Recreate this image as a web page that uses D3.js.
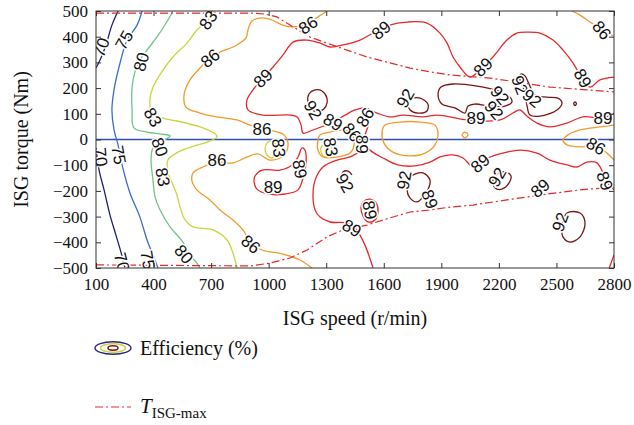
<!DOCTYPE html>
<html><head><meta charset="utf-8">
<script src="https://cdn.jsdelivr.net/npm/d3@7/dist/d3.min.js"></script>
<style>body{margin:0;background:#fff}</style>
</head><body>
<svg id="chart" width="634" height="425"></svg>
<script>
// ---------- data (speed r/min, torque Nm) ----------
const xTicks = [100,400,700,1000,1300,1600,1900,2200,2500,2800];
const yTicks = [-500,-400,-300,-200,-100,0,100,200,300,400,500];
const levels = [70,75,80,83,86,89,92];

const lines70 = [
  [[215,500],[183,445],[152,368],[121,309],[100,278]],
  [[100,-33],[116,-119],[142,-196],[173,-294],[204,-372],[230,-438],[251,-500]]
];
const lines75 = [
  [[340,500],[314,445],[262,387],[220,282],[194,193],[183,115],[194,37],[215,-21],[236,-99],[277,-208],[329,-302],[366,-391],[397,-449],[423,-500]]
];
const lines80 = [
  [[501,500],[475,465],[418,399],[366,348],[329,309],[303,263],[288,204],[288,115],[298,45],[366,29],[444,21],[486,14],[449,-6],[397,-33],[387,-80],[397,-158],[408,-224],[434,-274],[486,-340],[553,-399],[590,-449],[626,-481],[642,-500]]
];
const lines83 = [
  [[720,500],[684,465],[626,426],[574,375],[501,321],[449,270],[397,204],[381,154],[392,103],[444,84],[522,72],[642,49],[715,25],[731,10],[679,-10],[616,-25],[538,-45],[475,-80],[475,-126],[501,-177],[522,-216],[538,-263],[564,-313],[606,-340],[710,-352],[783,-391],[814,-442],[835,-500]]
];
const loops83 = [
  [[991,-14],[1017,-6],[1043,-25],[1043,-56],[1017,-72],[991,-60],[981,-37]],
  [[1278,-25],[1309,-18],[1330,-33],[1325,-60],[1294,-68],[1273,-49]]
];
const lines86 = [
  [[1304,500],[1257,477],[1215,457],[1169,442],[1085,442],[1017,465],[965,473],[913,461],[892,426],[882,395],[825,364],[746,340],[694,317],[642,278],[590,232],[559,173],[569,126],[642,103],[731,88],[835,76],[903,56],[965,41],[1028,33],[1080,18],[1101,-21],[1075,-64],[1007,-80],[944,-56],[887,-68],[814,-91],[731,-88],[658,-107],[606,-130],[600,-161],[626,-196],[694,-235],[746,-274],[814,-313],[866,-352],[908,-403],[965,-430],[1075,-446],[1163,-469],[1226,-500]],
  [[2581,500],[2623,484],[2675,457],[2743,426],[2795,403]],
  [[2800,56],[2727,49],[2623,37],[2560,18],[2534,-2],[2555,-21],[2623,-29],[2706,-25],[2763,-53],[2800,-80]]
];
const loops86 = [
  [[1257,-2],[1268,18],[1320,29],[1398,37],[1434,21],[1445,-21],[1424,-53],[1356,-68],[1283,-68],[1257,-41]],
  [[1606,56],[1685,68],[1789,68],[1867,56],[1883,18],[1867,-21],[1815,-53],[1737,-64],[1648,-49],[1601,-14],[1591,29]],
  [[2008,18],[2023,29],[2039,18],[2023,6]]
];
const lines89 = [
  [[2800,243],[2727,232],[2675,204],[2638,232],[2586,298],[2534,348],[2482,387],[2414,414],[2352,418],[2294,414],[2242,387],[2169,321],[2117,282],[2049,243],[1997,282],[1961,321],[1930,375],[1893,414],[1825,453],[1721,457],[1632,445],[1586,426],[1544,414],[1476,387],[1387,368],[1320,360],[1268,375],[1200,387],[1127,379],[1075,329],[1023,282],[970,239],[918,193],[887,154],[892,115],[970,95],[1111,95],[1148,88],[1169,56],[1179,25],[1231,37],[1335,68],[1398,95],[1450,115],[1502,123],[1565,103],[1632,88],[1700,95],[1804,88],[1877,95],[1945,88],[2034,76],[2206,76],[2273,103],[2310,115],[2346,91],[2399,64],[2466,49],[2555,64],[2638,88],[2743,84],[2800,103]],
  [[1507,115],[1518,56],[1497,-2],[1528,-41],[1596,-72],[1674,-99],[1763,-103],[1841,-88],[1893,-68],[1961,-60],[2013,-72],[2065,-107],[2102,-91],[2154,-68],[2242,-49],[2310,-41],[2399,-53],[2466,-80],[2555,-99],[2607,-107],[2659,-88],[2711,-91],[2743,-130],[2763,-165],[2800,-196]],
  [[1487,-41],[1424,-68],[1356,-80],[1283,-107],[1242,-158],[1231,-224],[1242,-274],[1268,-302],[1320,-321],[1408,-325],[1450,-344],[1476,-372],[1502,-411],[1528,-463],[1544,-500]],
  [[2800,-449],[2785,-480],[2775,-500]]
];
const loops89 = [
  [[929,-142],[965,-119],[1059,-119],[1122,-99],[1153,-68],[1174,-33],[1189,-41],[1195,-88],[1179,-150],[1153,-196],[1085,-212],[997,-212],[939,-193],[924,-165]],
  [[1492,-243],[1528,-232],[1560,-247],[1570,-282],[1554,-313],[1518,-321],[1492,-298],[1481,-266]]
];
const lines92 = [
  [[1377,-146],[1387,-126],[1414,-123],[1434,-138]]
];
const loops92 = [
  [[1210,177],[1242,193],[1278,189],[1304,161],[1299,130],[1268,111],[1226,115],[1205,146]],
  [[1726,138],[1747,158],[1789,161],[1830,138],[1825,111],[1778,103],[1737,115]],
  [[1883,173],[1898,204],[1961,216],[2086,208],[2195,189],[2258,165],[2268,146],[2232,130],[2154,130],[2075,138],[2039,130],[2023,103],[1971,123],[1903,138]],
  [[2315,255],[2336,247],[2357,216],[2388,173],[2451,165],[2508,161],[2529,142],[2503,115],[2414,91],[2362,95],[2346,134],[2331,193],[2310,232]],
  [[2590,140],[2597,146],[2604,140],[2597,132]],
  [[1737,-146],[1804,-130],[1841,-158],[1830,-196],[1804,-224],[1773,-243],[1737,-228],[1721,-196]],
  [[2169,-158],[2190,-134],[2232,-126],[2263,-142],[2253,-169],[2216,-193],[2180,-189]],
  [[2555,-286],[2623,-286],[2649,-325],[2623,-379],[2571,-399],[2534,-379],[2529,-344]]
];

// maximum ISG torque curve
const tMaxSpeed  = [100,903,981,1043,1127,1215,1304,1408,1513,1632,1737,1841,1945,2154,2326,2466,2659,2800];
const tMaxUpper  = [492,492,488,477,438,399,375,348,321,298,278,263,251,239,220,204,193,185];
const tMinSpeed  = [100,903,1007,1111,1200,1304,1387,1513,1632,1737,1841,1945,2065,2242,2414,2623,2800];
const tMinLower  = [-488,-492,-481,-461,-430,-379,-352,-333,-305,-282,-274,-263,-255,-235,-216,-196,-185];

// contour labels: level, speed, torque, text angle
const labelLevel = [70,70,70, 75,75,75, 80,80,80, 83,83,83,83,83, 86,86,86,86,86,86,86,86,86,
  89,89,89,89,89,89,89,89,89,89,89,89,89,89,89,89, 92,92,92,92,92,92,92,92,92,92];
const labelSpeed = [126,126,236, 246,220,371, 335,434,559, 684,397,449,1054,1325, 694,1205,2737,965,731,908,1434,1502,2706,
  970,1586,2117,2638,2743,1335,1487,1163,1023,1528,1434,1841,2102,2414,2753,2081, 1231,1711,2206,2175,2310,2373,1398,1705,2190,2519];
const labelTorque = [359,-68,-477, 387,-60,-469, 302,-29,-446, 465,87,-146,-33,-29, 317,446,426,41,-80,-407,29,87,-25,
  239,426,282,239,84,68,-18,-115,-185,-274,-344,-232,-92,-189,-161,84, 115,161,173,115,212,161,-169,-158,-146,-321];
const labelAngle = [-70,85,75, -60,80,80, -75,70,50, -55,60,80,85,80, -40,-35,50,0,0,40,50,-60,30,
  -45,-40,-45,60,0,30,90,80,0,80,30,70,-40,-40,70,0, 60,-60,50,50,70,40,60,-80,-60,-70];

// ---------- build ----------
const contourSets = levels.map(l => ({
  level: l,
  open: ({70:lines70,75:lines75,80:lines80,83:lines83,86:lines86,89:lines89,92:lines92})[l] || [],
  closed: ({83:loops83,86:loops86,89:loops89,92:loops92})[l] || []
}));
const color = d3.scaleOrdinal().domain(levels)
  .range(["#1f1f73","#3b6ec6","#73c28c","#c9d63c","#f39a2b","#e8282b","#7a1518"]);

const x = d3.scaleLinear().domain([100,2800]).range([96,614]);
const y = d3.scaleLinear().domain([-500,500]).range([268,11]);

const svg = d3.select("#chart");
svg.append("defs").append("clipPath").attr("id","clip")
  .append("rect").attr("x",96).attr("y",11).attr("width",518).attr("height",257);

const plot = svg.append("g").attr("clip-path","url(#clip)");

// zero torque line
plot.append("line").attr("x1",x(100)).attr("x2",x(2800)).attr("y1",y(0)).attr("y2",y(0))
  .attr("stroke","#2f4fb0").attr("stroke-width",1.3);

const lineOpen = d3.line().x(d=>x(d[0])).y(d=>y(d[1])).curve(d3.curveCatmullRom.alpha(0.5));
const lineClosed = d3.line().x(d=>x(d[0])).y(d=>y(d[1])).curve(d3.curveCatmullRomClosed.alpha(0.5));

contourSets.forEach(cs => {
  cs.open.forEach(p => plot.append("path").attr("d",lineOpen(p)).attr("fill","none")
    .attr("stroke",color(cs.level)).attr("stroke-width",1.3));
  cs.closed.forEach(p => plot.append("path").attr("d",lineClosed(p)).attr("fill","none")
    .attr("stroke",color(cs.level)).attr("stroke-width",1.3));
});

// torque limit curves
const tmaxLine = d3.line().x(d=>x(d[0])).y(d=>y(d[1]));
const upper = tMaxSpeed.map((s,i)=>[s,tMaxUpper[i]]);
const lower = tMinSpeed.map((s,i)=>[s,tMinLower[i]]);
[upper,lower].forEach(p => plot.append("path").attr("d",tmaxLine(p)).attr("fill","none")
  .attr("stroke","#e8282b").attr("stroke-width",1.2).attr("stroke-dasharray","8,3,2,3"));

// contour labels
labelLevel.forEach((lv,i) => {
  plot.append("text")
    .attr("transform",`translate(${x(labelSpeed[i])},${y(labelTorque[i])}) rotate(${labelAngle[i]})`)
    .attr("text-anchor","middle").attr("dy","0.36em")
    .attr("font-family","'Liberation Sans', Arial, sans-serif").attr("font-size",17)
    .attr("fill","#111").attr("stroke","#fff").attr("stroke-width",3)
    .attr("paint-order","stroke").text(lv);
});

// axes
const axFont = "'Liberation Serif','DejaVu Serif',serif";
const gx = svg.append("g").attr("transform",`translate(0,${y(-500)})`)
  .call(d3.axisBottom(x).tickValues(xTicks).tickSizeInner(-5).tickSizeOuter(0).tickPadding(10).tickFormat(d3.format("d")));
const gy = svg.append("g").attr("transform",`translate(${x(100)},0)`)
  .call(d3.axisLeft(y).tickValues(yTicks).tickSizeInner(-5).tickSizeOuter(0).tickPadding(8).tickFormat(d3.format("d")));
const gt = svg.append("g").attr("transform",`translate(0,${y(500)})`)
  .call(d3.axisTop(x).tickValues(xTicks).tickSizeInner(-5).tickSizeOuter(0).tickFormat(""));
const gr = svg.append("g").attr("transform",`translate(${x(2800)},0)`)
  .call(d3.axisRight(y).tickValues(yTicks).tickSizeInner(-5).tickSizeOuter(0).tickFormat(""));
[gx,gy,gt,gr].forEach(g => {
  g.select(".domain").remove();
  g.selectAll("line").attr("stroke","#333");
  g.selectAll("text").attr("font-family",axFont).attr("font-size",17).attr("fill","#111");
});
svg.append("rect").attr("x",x(100)).attr("y",y(500)).attr("width",x(2800)-x(100)).attr("height",y(-500)-y(500))
  .attr("fill","none").attr("stroke","#333").attr("stroke-width",1);

svg.append("text").attr("x",(x(100)+x(2800))/2).attr("y",325).attr("text-anchor","middle")
  .attr("font-family",axFont).attr("font-size",20).attr("fill","#111").text("ISG speed (r/min)");
svg.append("text").attr("transform",`translate(28,${(y(500)+y(-500))/2}) rotate(-90)`).attr("text-anchor","middle")
  .attr("font-family",axFont).attr("font-size",20).attr("fill","#111").text("ISG torque (Nm)");

// legend
const lg = svg.append("g");
lg.append("ellipse").attr("cx",113).attr("cy",348).attr("rx",18).attr("ry",6.3).attr("fill","none").attr("stroke","#26268a").attr("stroke-width",1.4);
lg.append("ellipse").attr("cx",113).attr("cy",348).attr("rx",12.5).attr("ry",4.2).attr("fill","none").attr("stroke","#c9d63c").attr("stroke-width",1.4);
lg.append("ellipse").attr("cx",113).attr("cy",348).attr("rx",5).attr("ry",2.2).attr("fill","#fff").attr("stroke","#7a1518").attr("stroke-width",1.5);
lg.append("text").attr("x",140).attr("y",355).attr("font-family",axFont).attr("font-size",20).attr("fill","#111").text("Efficiency (%)");
lg.append("line").attr("x1",95).attr("x2",131).attr("y1",407).attr("y2",407).attr("stroke","#e8282b").attr("stroke-width",1.2).attr("stroke-dasharray","8,3,2,3");
const tt = lg.append("text").attr("x",140).attr("y",413).attr("font-family",axFont).attr("fill","#111");
tt.append("tspan").attr("font-style","italic").attr("font-size",21).text("T");
tt.append("tspan").attr("font-size",15).attr("dy",5).text("ISG-max");
</script>
</body></html>
